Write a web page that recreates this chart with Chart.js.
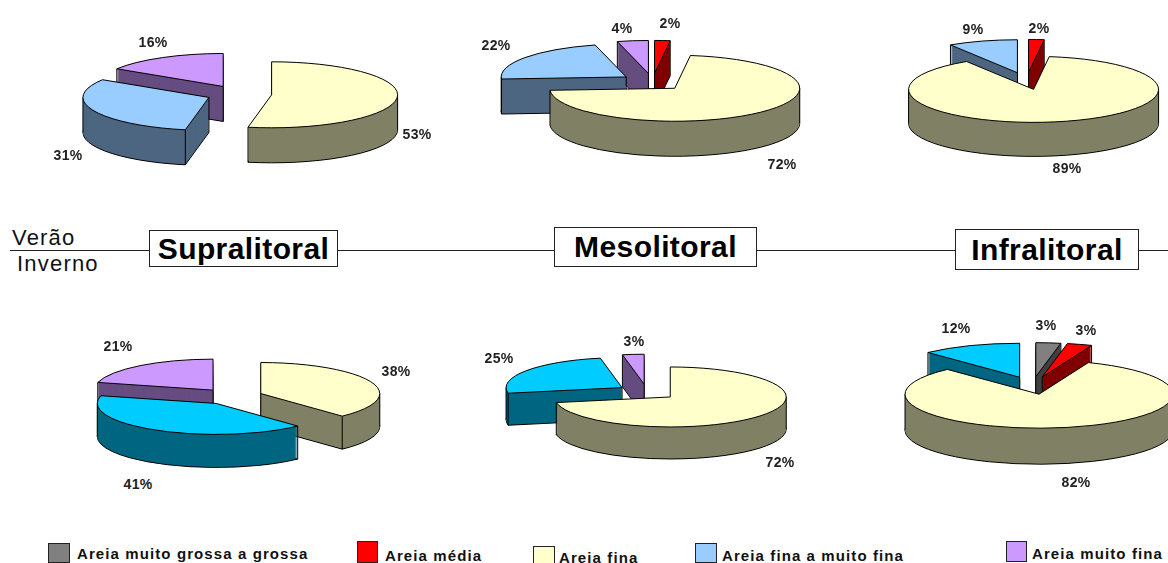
<!DOCTYPE html>
<html>
<head>
<meta charset="utf-8">
<title>Areia</title>
<script src="https://cdn.jsdelivr.net/npm/chart.js@4/dist/chart.umd.min.js"></script>
<style>
    html, body { margin: 0; padding: 0; background: #fff; }
    #page { position: relative; width: 1168px; height: 563px; overflow: hidden; font-family: "Liberation Sans", Arial, sans-serif; }
    #page canvas { position: absolute; }
    .pct { position: absolute; transform: translate(-50%, -50%); font-size: 14px; font-weight: bold; letter-spacing: 0.3px; color: #222; z-index: 3; }
    .line { position: absolute; left: 10px; top: 250px; width: 1158px; height: 1px; background: #222; }
    .zone { position: absolute; box-sizing: border-box; border: 1px solid #222; background: #fff; color: #000; font-weight: bold; font-size: 30px; letter-spacing: 0.4px; text-align: center; }
    .season { position: absolute; font-size: 22px; letter-spacing: 1.2px; color: #111; line-height: 22px; }
    .key { position: absolute; box-sizing: border-box; border: 1px solid #222; }
    .keytext { position: absolute; transform: translateY(-50%); font-size: 15px; font-weight: bold; letter-spacing: 1.1px; color: #111; white-space: nowrap; }
</style>
</head>
<body>
<div id="page">
    <div class="line"></div>
    <div class="season" style="left:12px;top:227px">Verão</div>
    <div class="season" style="left:17px;top:253px">Inverno</div>
</div>
<script>
const categories = ["Areia muito grossa a grossa", "Areia média", "Areia fina", "Areia fina a muito fina", "Areia muito fina"];

const veraoSupra = [0, 0, 53, 31, 16];
const veraoMeso = [0, 2, 72, 22, 4];
const veraoInfra = [0, 2, 89, 9, 0];
const invernoSupra = [0, 0, 38, 41, 21];
const invernoMeso = [0, 0, 72, 25, 3];
const invernoInfra = [3, 3, 82, 12, 0];

const zones = ["Supralitoral", "Mesolitoral", "Infralitoral"];

const topVerao = ["#808080", "#FF0000", "#FFFFCC", "#99CCFF", "#CC99FF"];
const sideVerao = ["#404040", "#800000", "#808066", "#4D6680", "#664D80"];
const topInverno = ["#808080", "#FF0000", "#FFFFCC", "#00CCFF", "#CC99FF"];
const sideInverno = ["#404040", "#800000", "#808066", "#006680", "#664D80"];

// layout of each pie: centre, radii, wall height, and the % label spots
const EXPLODE = 0.26;
const pies = [
    {values: veraoSupra, top: topVerao, side: sideVerao, cx: 239, cy: 94, rx: 126, ry: 33, depth: 35,
        labels: [[417, 134], [68, 155], [153, 42]]},
    {values: veraoMeso, top: topVerao, side: sideVerao, cx: 652, cy: 82, rx: 125, ry: 33, depth: 35,
        labels: [[670, 23], [782, 164], [496, 45], [622, 28]]},
    {values: veraoInfra, top: topVerao, side: sideVerao, cx: 1026, cy: 81, rx: 125, ry: 33, depth: 34,
        labels: [[1039, 28], [1067, 168], [973, 29]]},
    {values: invernoSupra, top: topInverno, side: sideInverno, cx: 232, cy: 396, rx: 119, ry: 31, depth: 33,
        labels: [[396, 371], [138, 484], [118, 346]]},
    {values: invernoMeso, top: topInverno, side: sideInverno, cx: 647, cy: 392, rx: 116, ry: 30, depth: 32,
        labels: [[780, 462], [499, 358], [634, 341]]},
    {values: invernoInfra, top: topInverno, side: sideInverno, cx: 1032, cy: 385, rx: 134, ry: 34, depth: 36,
        labels: [[1046, 325], [1086, 330], [1076, 482], [956, 328]]},
];

const zoneBoxes = [[149, 230, 189, 37], [554, 227, 203, 40], [955, 229, 184, 41]];
const keyBoxes = [[48, 543, 22, 20, 77, 553], [357, 541, 21, 22, 385, 555], [533, 546, 22, 20, 559, 557], [695, 543, 22, 20, 722, 555], [1006, 541, 21, 21, 1032, 553]];

const wedge = (ctx, x, y, rx, ry, a0, a1) => {
    ctx.beginPath();
    ctx.moveTo(x, y);
    ctx.ellipse(x, y, rx, ry, 0, a0, a1);
    ctx.closePath();
};

// Chart.js lays out the slices, this squashes them and adds the walls
const pie3d = {
    id: "pie3d",
    beforeDatasetDraw(chart, args, opts) {
        const ctx = chart.ctx;
        const {ry, depth, side} = opts;
        const slices = chart.getDatasetMeta(args.index).data
            .map((arc, i) => {
                const p = arc.getProps(["x", "y", "startAngle", "endAngle", "outerRadius"], true);
                const mid = (p.startAngle + p.endAngle) / 2;
                return {
                    arc, i, a0: p.startAngle, a1: p.endAngle, rx: p.outerRadius,
                    x: p.x + Math.cos(mid) * EXPLODE * p.outerRadius,
                    y: p.y + Math.sin(mid) * EXPLODE * ry,
                };
            })
            .filter((s) => s.a1 - s.a0 > 0)
            .sort((a, b) => a.y - b.y);

        ctx.save();
        ctx.lineWidth = 1;
        ctx.strokeStyle = "#000";
        ctx.lineJoin = "round";
        slices.forEach((s) => {
            ctx.fillStyle = side[s.i];
            // floor with its outline, then the walls stacked on it
            wedge(ctx, s.x, s.y + depth, s.rx, ry, s.a0, s.a1);
            ctx.fill();
            ctx.stroke();
            for (let d = depth - 1; d > 0; d--) {
                wedge(ctx, s.x, s.y + d, s.rx, ry, s.a0, s.a1);
                ctx.fill();
            }
            // upright edges, only where the cut faces or the front rim show them
            const face0 = Math.cos(s.a0) < -0.001;
            const face1 = Math.cos(s.a1) > 0.001;
            const uprights = [];
            if (face0 || face1) uprights.push([s.x, s.y]);
            if (face0 || Math.sin(s.a0) > 0) uprights.push([s.x + Math.cos(s.a0) * s.rx, s.y + Math.sin(s.a0) * ry]);
            if (face1 || Math.sin(s.a1) > 0) uprights.push([s.x + Math.cos(s.a1) * s.rx, s.y + Math.sin(s.a1) * ry]);
            [0, Math.PI].forEach((a) => {
                if (a > s.a0 && a < s.a1) uprights.push([s.x + Math.cos(a) * s.rx, s.y]);
            });
            ctx.beginPath();
            uprights.forEach(([ux, uy]) => {
                ctx.moveTo(ux, uy);
                ctx.lineTo(ux, uy + depth);
            });
            ctx.stroke();
            // top face comes from the arc element itself
            ctx.save();
            ctx.translate(s.x, s.y);
            ctx.scale(1, ry / s.rx);
            ctx.translate(-s.arc.x, -s.arc.y);
            s.arc.draw(ctx);
            ctx.restore();
            wedge(ctx, s.x, s.y, s.rx, ry, s.a0, s.a1);
            ctx.stroke();
        });
        ctx.restore();
        return false;
    },
};

const page = document.getElementById("page");

pies.forEach((pie) => {
    const w = Math.ceil(pie.rx * 2.6) + 8;
    const h = Math.ceil((pie.ry * 1.3 + pie.depth) * 2) + 8;
    const el = document.createElement("canvas");
    el.width = w;
    el.height = h;
    el.style.left = (pie.cx - w / 2) + "px";
    el.style.top = (pie.cy - h / 2) + "px";
    el.style.width = w + "px";
    el.style.height = h + "px";
    page.appendChild(el);

    new Chart(el, {
        type: "pie",
        data: {
            labels: categories,
            datasets: [{data: pie.values, backgroundColor: pie.top, borderWidth: 0}],
        },
        options: {
            responsive: false,
            animation: false,
            radius: pie.rx,
            events: [],
            plugins: {
                legend: {display: false},
                tooltip: {enabled: false},
                pie3d: {ry: pie.ry, depth: pie.depth, side: pie.side},
            },
        },
        plugins: [pie3d],
    });

    pie.values.filter((v) => v > 0).forEach((v, i) => {
        const t = document.createElement("div");
        t.className = "pct";
        t.textContent = v + "%";
        t.style.left = pie.labels[i][0] + "px";
        t.style.top = pie.labels[i][1] + "px";
        page.appendChild(t);
    });
});

zones.forEach((name, i) => {
    const [x, y, w, h] = zoneBoxes[i];
    const d = document.createElement("div");
    d.className = "zone";
    d.textContent = name;
    d.style.cssText = `left:${x}px;top:${y}px;width:${w}px;height:${h}px;line-height:${h - 2}px`;
    page.appendChild(d);
});

categories.forEach((name, i) => {
    const [x, y, w, h, tx, ty] = keyBoxes[i];
    const k = document.createElement("div");
    k.className = "key";
    k.style.cssText = `left:${x}px;top:${y}px;width:${w}px;height:${h}px;background:${topVerao[i]}`;
    page.appendChild(k);
    const t = document.createElement("div");
    t.className = "keytext";
    t.textContent = name;
    t.style.left = tx + "px";
    t.style.top = ty + "px";
    page.appendChild(t);
});
</script>
</body>
</html>
